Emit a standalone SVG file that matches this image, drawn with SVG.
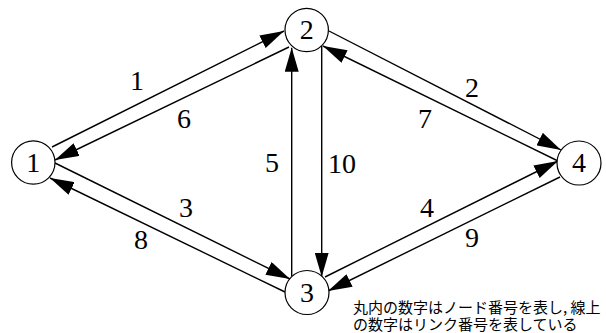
<svg xmlns="http://www.w3.org/2000/svg" width="606" height="333" viewBox="0 0 606 333">
<style>
.node circle{fill:#fff;stroke:#000;stroke-width:1.2}
.edge{stroke:#000;stroke-width:1.4;fill:none;marker-end:url(#ah)}
</style>
<defs>
<marker id="ah" markerUnits="userSpaceOnUse" markerWidth="24" markerHeight="14" refX="24" refY="7" orient="auto" viewBox="0 0 24 14">
<path d="M0,0 L24,7 L0,14 z" fill="#000"/>
</marker>
</defs>
<rect width="606" height="333" fill="#fff"/>
<g id="connectors">
<line class="edge" x1="52" y1="147" x2="284" y2="31"/>
<line class="edge" x1="289" y1="47" x2="55" y2="160"/>
<line class="edge" x1="329" y1="31" x2="561" y2="150"/>
<line class="edge" x1="558" y1="161" x2="323" y2="46"/>
<line class="edge" x1="55" y1="163" x2="290" y2="279"/>
<line class="edge" x1="285" y1="292" x2="50" y2="178"/>
<line class="edge" x1="291.7" y1="276" x2="291.7" y2="47.7"/>
<line class="edge" x1="321.7" y1="46" x2="321.7" y2="276.7"/>
<line class="edge" x1="325" y1="277" x2="558" y2="161"/>
<line class="edge" x1="560" y1="177" x2="328" y2="291"/>
<g id="edge-labels">
<text font-family="Liberation Serif" font-size="28" text-anchor="middle" x="137" y="90">1</text>
<text font-family="Liberation Serif" font-size="28" text-anchor="middle" x="184" y="128">6</text>
<text font-family="Liberation Serif" font-size="28" text-anchor="middle" x="272" y="172">5</text>
<text font-family="Liberation Serif" font-size="28" text-anchor="middle" x="472" y="97">2</text>
<text font-family="Liberation Serif" font-size="28" text-anchor="middle" x="425" y="128">7</text>
<text font-family="Liberation Serif" font-size="28" text-anchor="middle" x="342" y="173">10</text>
<text font-family="Liberation Serif" font-size="28" text-anchor="middle" x="186" y="217">3</text>
<text font-family="Liberation Serif" font-size="28" text-anchor="middle" x="141" y="249">8</text>
<text font-family="Liberation Serif" font-size="28" text-anchor="middle" x="427" y="217">4</text>
<text font-family="Liberation Serif" font-size="28" text-anchor="middle" x="472" y="247">9</text>
</g>
</g>
<g id="node1" class="node"><circle cx="33.3" cy="162.5" r="21.7"/><text font-family="Liberation Serif" font-size="28" text-anchor="middle" x="33.3" y="172">1</text></g>
<g id="node2" class="node"><circle cx="306.7" cy="30" r="21.7"/><text font-family="Liberation Serif" font-size="28" text-anchor="middle" x="306.7" y="39">2</text></g>
<g id="node3" class="node"><circle cx="307" cy="292.5" r="22"/><text font-family="Liberation Serif" font-size="28" text-anchor="middle" x="307" y="302">3</text></g>
<g id="node4" class="node"><circle cx="579" cy="163" r="22"/><text font-family="Liberation Serif" font-size="28" text-anchor="middle" x="579" y="172">4</text></g>
<g id="note">
<text font-family="Noto Sans CJK JP" font-size="15" x="353" y="313"><tspan x="353" y="313">丸内の数字はノード番号を表し, 線上</tspan><tspan x="353" y="330">の数字はリンク番号を表している</tspan></text>
</g>
</svg>
